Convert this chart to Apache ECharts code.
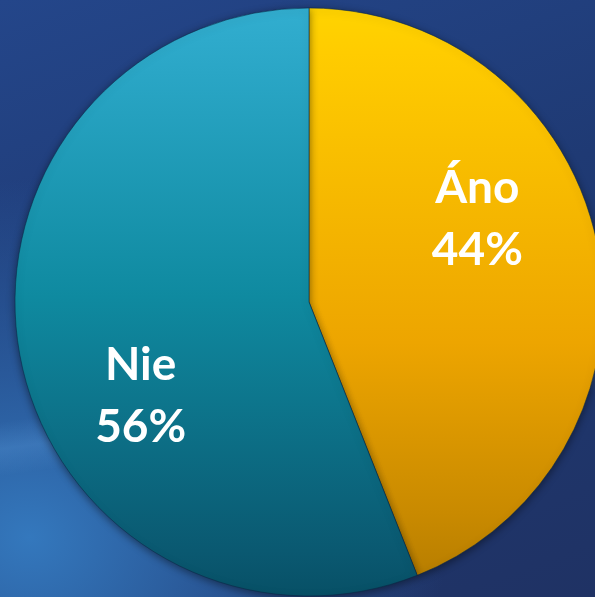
<!DOCTYPE html>
<html><head><meta charset="utf-8">
<script src="https://cdn.jsdelivr.net/npm/echarts@6/dist/echarts.min.js"></script>
<style>
html,body{margin:0;padding:0;width:595px;height:597px;overflow:hidden;}
#bg{position:absolute;left:0;top:0;width:595px;height:597px;
background:
 linear-gradient(172deg, rgba(120,190,255,0) 62%, rgba(120,190,255,0.18) 66%, rgba(120,190,255,0) 70%),
 radial-gradient(ellipse 70% 60% at 5% 90%, #3478bd 0%, rgba(48,110,180,0.6) 45%, rgba(40,80,150,0) 100%),
 linear-gradient(160deg, #24468a 0%, #1f3a74 45%, #1f3264 100%);}
#chart{position:absolute;left:0;top:0;width:595px;height:597px;}
</style></head>
<body><div id="bg"></div><div id="chart"></div>
<script>
const categories = ["Áno", "Nie"];
const values = [44, 56];
const labelOffsets = [[21, -55], [-21, 66]];
const gradientStops = [
  [[0, "#ffd400"], [0.08, "#ffcc00"], [0.59, "#eda500"], [0.89, "#c98a00"], [1, "#b87e00"]],
  [[0, "#32aed0"], [0.11, "#2aa6c6"], [0.49, "#0f8aa0"], [0.93, "#0a5870"], [1, "#075066"]]
];

const chart = echarts.init(document.getElementById('chart'), null, {renderer:'canvas'});
const data = categories.map((c, i) => ({
  name: c, value: values[i],
  itemStyle: {
    color: new echarts.graphic.LinearGradient(0, 0, 0, 1,
      gradientStops[i].map(s => ({offset: s[0], color: s[1]})))
  },
  label: {offset: labelOffsets[i]}
}));
chart.setOption({
  backgroundColor: 'transparent',
  animation: false,
  series: [{
    type: 'pie',
    center: [309, 302],
    radius: [0, 294],
    startAngle: 90,
    clockwise: true,
    data: data,
    itemStyle: {
      borderColor: 'rgba(10,40,70,0.55)', borderWidth: 1,
      shadowBlur: 8, shadowColor: 'rgba(0,0,0,0.45)', shadowOffsetY: 2
    },
    label: {
      show: true, position: 'inner',
      formatter: p => p.name + '\n' + p.percent.toFixed(0) + '%',
      color: '#ffffff', fontFamily: 'Lato', fontWeight: 'bold', fontSize: 46,
      lineHeight: 62, align: 'center'
    },
    labelLine: {show: false},
    emphasis: {disabled: true}
  }]
});
</script></body></html>
